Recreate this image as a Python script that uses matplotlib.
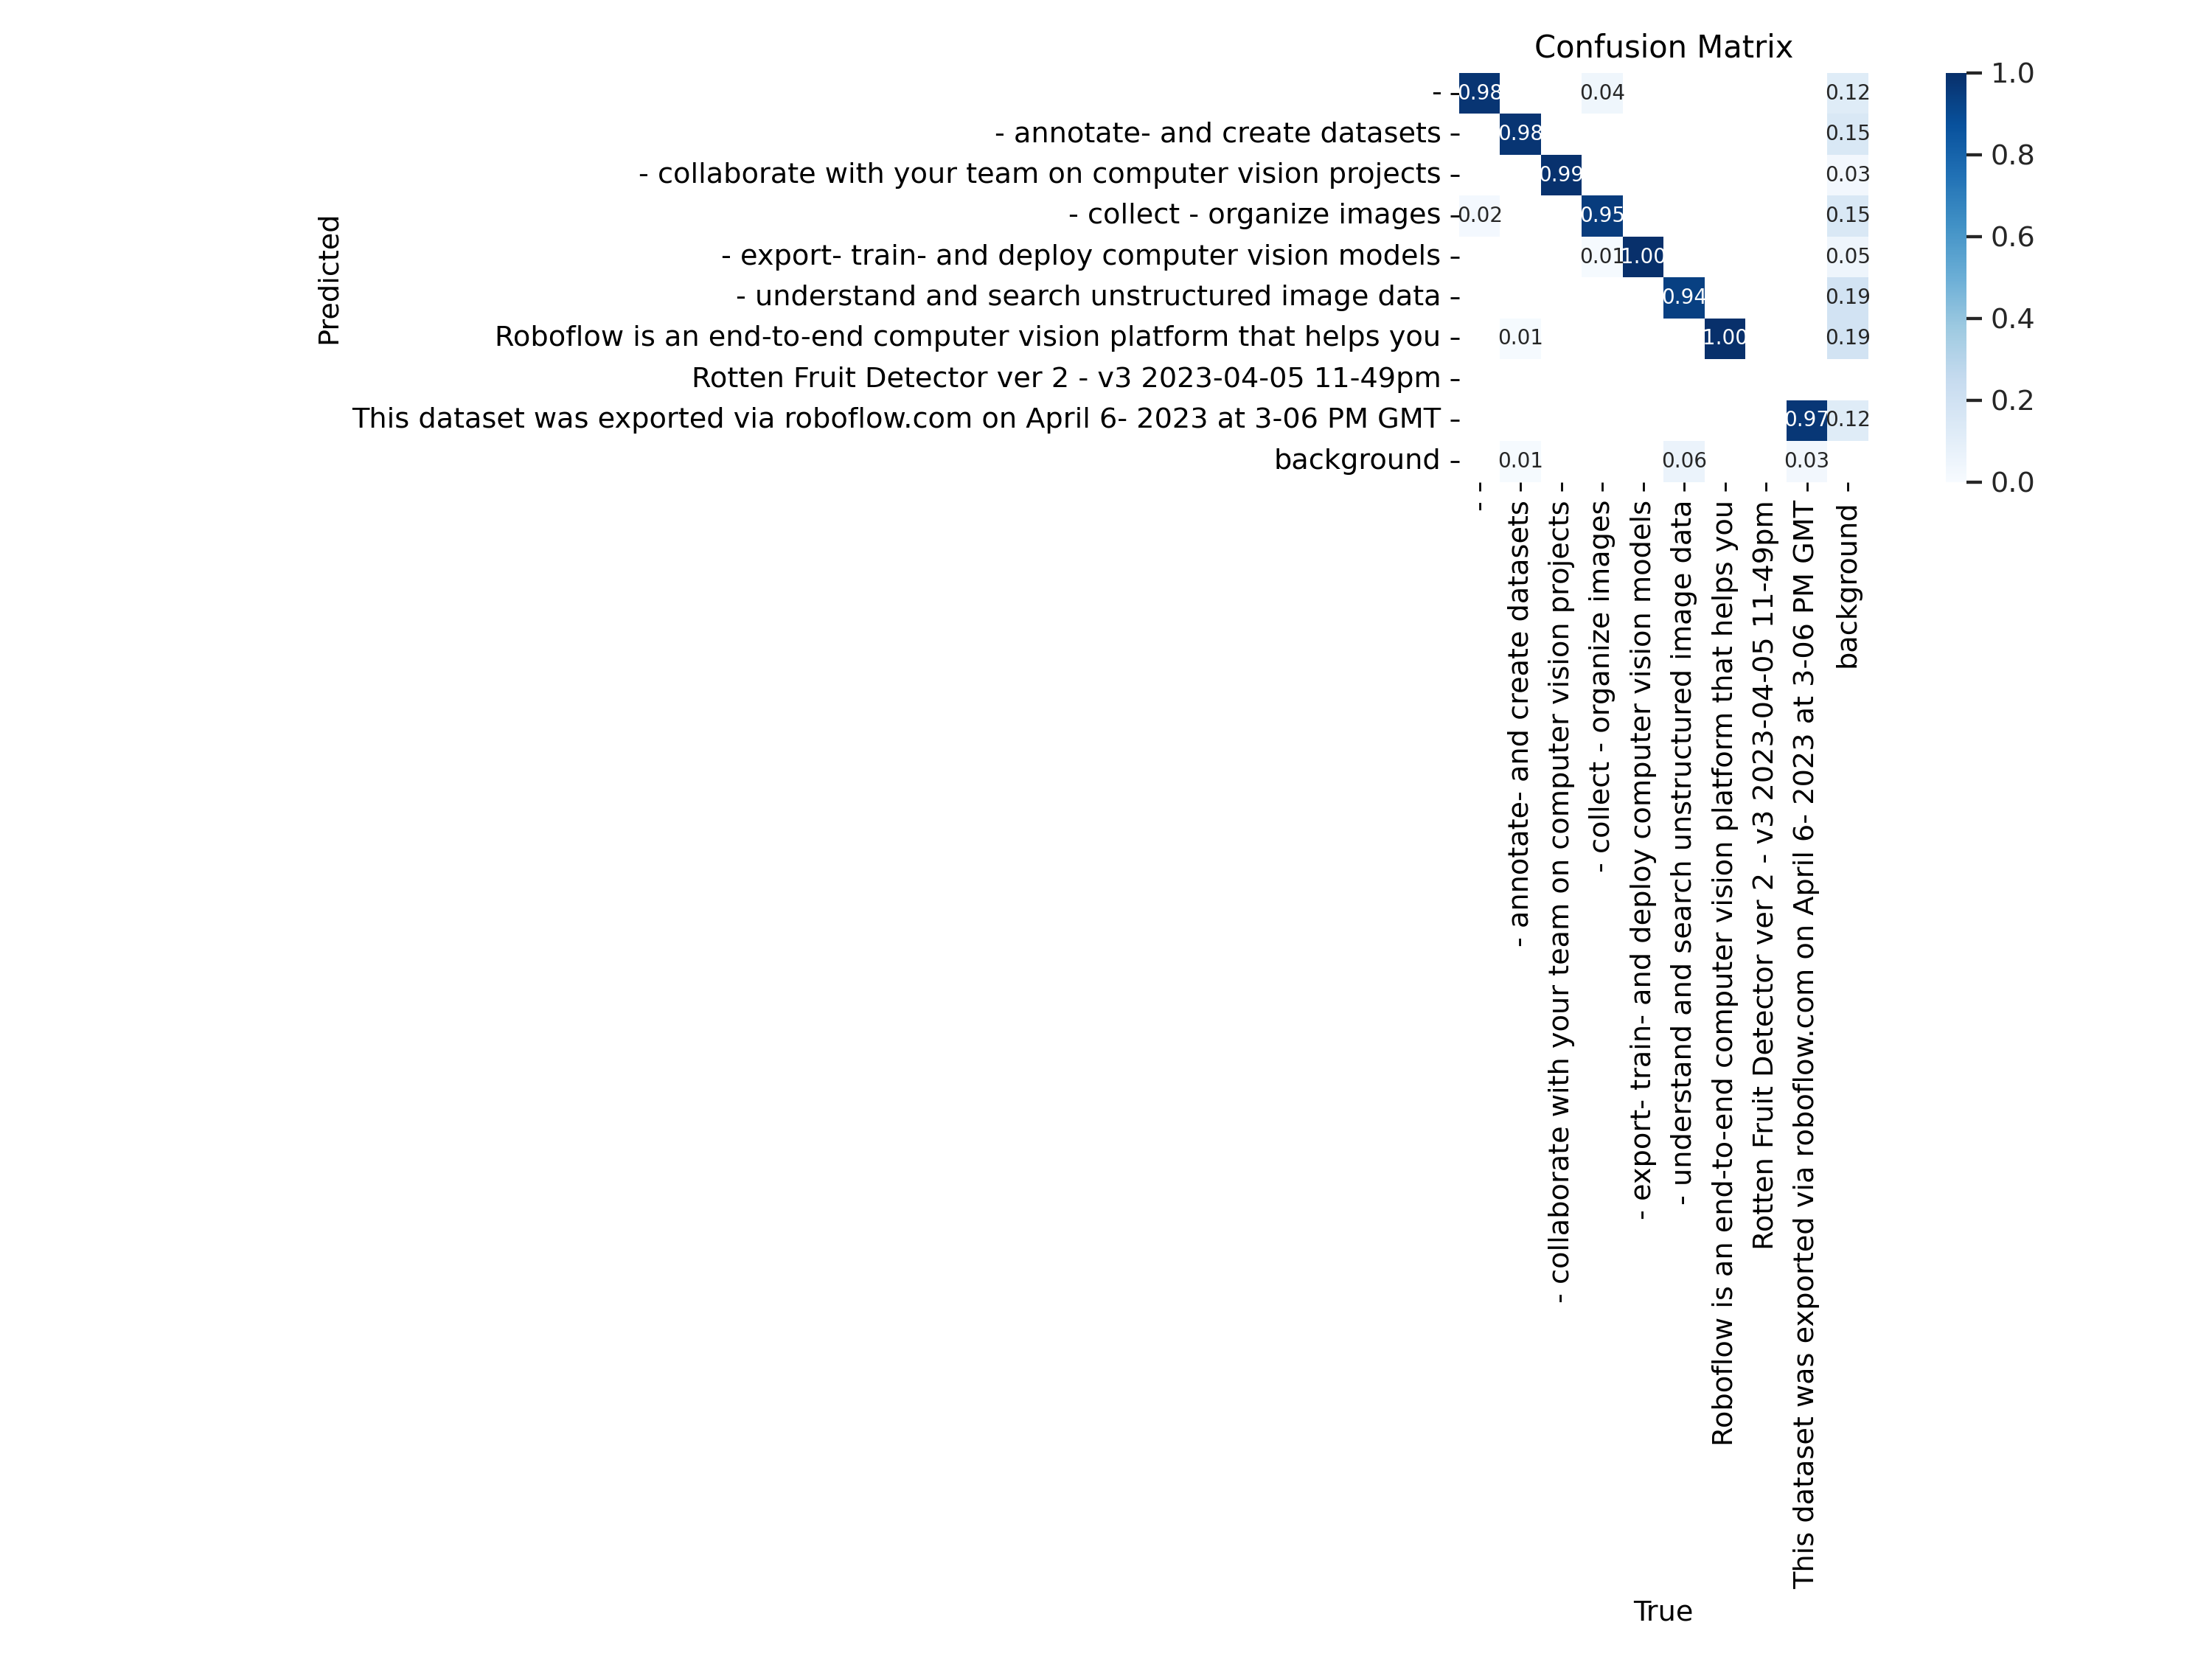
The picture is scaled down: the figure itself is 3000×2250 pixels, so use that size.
import numpy as np
import matplotlib
matplotlib.use("Agg")
import matplotlib.pyplot as plt
import seaborn as sns

# class names (last one is background)
names = [
    "-",
    "- annotate- and create datasets",
    "- collaborate with your team on computer vision projects",
    "- collect - organize images",
    "- export- train- and deploy computer vision models",
    "- understand and search unstructured image data",
    "Roboflow is an end-to-end computer vision platform that helps you",
    "Rotten Fruit Detector ver 2 - v3 2023-04-05 11-49pm",
    "This dataset was exported via roboflow.com on April 6- 2023 at 3-06 PM GMT",
    "background",
]

# normalized confusion matrix, rows = predicted, cols = true (nan = empty)
n = np.nan
row0 = [0.98, n, n, 0.04, n, n, n, n, n, 0.12]
row1 = [n, 0.98, n, n, n, n, n, n, n, 0.15]
row2 = [n, n, 0.99, n, n, n, n, n, n, 0.03]
row3 = [0.02, n, n, 0.95, n, n, n, n, n, 0.15]
row4 = [n, n, n, 0.01, 1.00, n, n, n, n, 0.05]
row5 = [n, n, n, n, n, 0.94, n, n, n, 0.19]
row6 = [n, 0.01, n, n, n, n, 1.00, n, n, 0.19]
row7 = [n, n, n, n, n, n, n, n, n, n]
row8 = [n, n, n, n, n, n, n, n, 0.97, 0.12]
row9 = [n, 0.01, n, n, n, 0.06, n, n, 0.03, n]

array = np.array([row0, row1, row2, row3, row4, row5, row6, row7, row8, row9])

# font sizes as in the seaborn notebook look
plt.rcParams["font.size"] = 12
plt.rcParams["xtick.labelsize"] = 11
plt.rcParams["ytick.labelsize"] = 11
plt.rcParams["axes.labelsize"] = 11
plt.rcParams["axes.titlesize"] = 12

fig, ax = plt.subplots(1, 1, figsize=(12, 9), tight_layout=True)
sns.heatmap(array, ax=ax, annot=True, annot_kws={"size": 8}, cmap="Blues",
            fmt=".2f", square=True, vmin=0.0,
            xticklabels=names, yticklabels=names).set_facecolor((1, 1, 1))

# colorbar ticks look like seaborn's notebook context (longer, thicker, grey)
cbar = ax.collections[0].colorbar
cbar.ax.tick_params(length=6, width=1.25, labelsize=11,
                    labelcolor="0.15", color="0.15")

ax.set_xlabel("True")
ax.set_ylabel("Predicted")
ax.set_title("Confusion Matrix")
fig.savefig("out.png", dpi=250)
